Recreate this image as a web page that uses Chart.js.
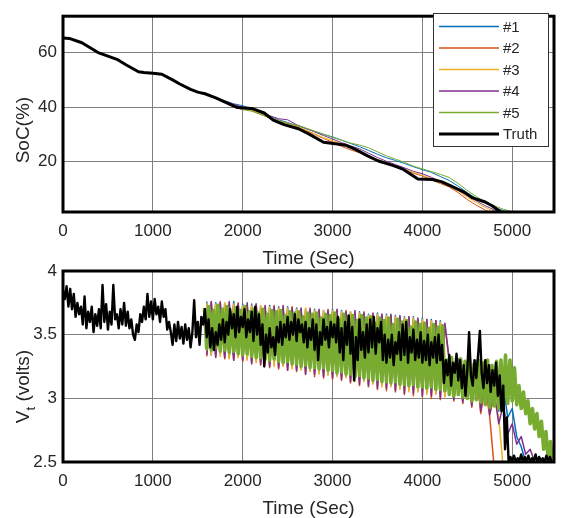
<!DOCTYPE html>
<html>
<head>
<meta charset="utf-8">
<title>SoC and terminal voltage</title>
<script src="https://cdn.jsdelivr.net/npm/chart.js@4"></script>
<style>
  html, body { margin: 0; padding: 0; background: #fff; }
  #wrap { position: relative; width: 564px; height: 518px; }
  #wrap canvas { position: absolute; left: 0; top: 0; }
</style>
</head>
<body>
<div id="wrap">
  <canvas id="chartSoc" width="564" height="518"></canvas>
  <canvas id="chartVolt" width="564" height="518"></canvas>
</div>
<script>
// ---- axes ----
const timeTicks = [0, 1000, 2000, 3000, 4000, 5000];
const socTicks = [20, 40, 60];
const voltTicks = [2.5, 3, 3.5, 4];
const timeMax = 5465;
const socMin = 1.3, socMax = 73.5;
const voltMin = 2.5, voltMax = 4;
const seriesNames = ['#1', '#2', '#3', '#4', '#5', 'Truth'];

// ---- top: SoC (%) ----
const socTruthTime = [0, 70, 210, 390, 500, 600, 700, 840, 900, 1000, 1100, 1220, 1300, 1420, 1500, 1580,
  1700, 1860, 1940, 2100, 2240, 2340, 2460, 2620, 2740, 2900, 3030, 3150, 3250, 3390, 3510, 3670, 3790,
  3870, 3950, 4110, 4210, 4310, 4470, 4560, 4700, 4780, 4860, 4900];
const socTruth = [65.5, 65.3, 63.7, 60.1, 58.8, 57.6, 55.6, 53.0, 52.7, 52.5, 52.1, 50.0, 48.5, 46.5, 45.5, 44.9,
  43.4, 41.0, 39.8, 39.5, 37.8, 35.2, 33.5, 32.0, 30.0, 27.0, 26.5, 25.9, 24.5, 22.0, 20.1, 18.5, 17.0,
  15.2, 13.5, 13.3, 12.5, 11.0, 8.5, 6.5, 5.0, 3.5, 1.6, 0.8];

const socEstTime = [1700, 1800, 1900, 2000, 2100, 2200, 2300, 2400, 2500, 2600, 2700, 2800, 2900, 3000,
  3100, 3200, 3300, 3400, 3500, 3600, 3700, 3800, 3900, 4000, 4100, 4200, 4300, 4400, 4500, 4600, 4700,
  4800, 4900, 5000, 5100];
const socEst1 = [43.4, 42.3, 41.2, 40.5, 39.3, 37.8, 36.6, 35.3, 34.3, 33.2, 32.1, 31.0, 29.9, 29.0,
  27.8, 26.6, 25.4, 24.0, 22.6, 21.3, 20.3, 19.2, 18.0, 16.9, 15.9, 14.4, 12.9, 10.8, 8.4, 6.3, 4.6,
  3.0, 1.8, 1.0, 0];
const socEst2 = [43.4, 42.1, 40.8, 39.6, 38.6, 37.3, 36.0, 34.8, 33.9, 32.8, 31.4, 29.9, 28.4, 27.0,
  25.5, 24.2, 23.2, 21.9, 20.4, 19.2, 18.0, 16.7, 15.6, 14.6, 13.2, 11.8, 10.5, 8.4, 5.9, 3.8, 2.0,
  0.5, 0, 0, 0];
const socEst3 = [43.4, 42.0, 40.7, 39.6, 38.8, 37.5, 36.2, 35.0, 33.9, 32.8, 31.6, 30.1, 28.7, 27.6,
  26.4, 25.0, 23.7, 22.2, 20.7, 19.5, 18.3, 17.1, 15.9, 14.8, 13.6, 12.2, 10.9, 9.0, 6.8, 4.8, 3.0,
  1.5, 0, 0, 0];
const socEst4 = [43.4, 42.2, 41.0, 40.0, 39.2, 38.0, 36.8, 35.7, 35.3, 33.5, 32.2, 30.8, 29.5, 28.2,
  26.9, 25.7, 24.6, 23.0, 21.4, 20.0, 18.8, 17.6, 16.3, 15.4, 14.1, 12.6, 11.3, 9.4, 7.4, 5.4, 3.6,
  2.1, 0.8, 0, 0];
const socEst5 = [43.4, 41.8, 40.2, 39.0, 38.5, 37.3, 36.0, 34.9, 34.0, 33.3, 32.3, 31.1, 30.0, 28.8,
  27.8, 26.7, 26.0, 25.0, 23.5, 22.0, 20.8, 19.6, 18.2, 17.2, 16.2, 15.2, 14.0, 11.8, 9.2, 7.0, 5.0,
  3.6, 2.3, 1.4, 0.5];

// ---- bottom: terminal voltage (V), sampled every few seconds ----
const voltTruthStart = 0, voltTruthStep = 20;
const voltTruth = [
  3.85, 3.78, 3.88, 3.72, 3.86, 3.70, 3.82, 3.64, 3.75, 3.66,
  3.72, 3.58, 3.80, 3.55, 3.68, 3.60, 3.72, 3.52, 3.66, 3.57,
  3.70, 3.55, 3.89, 3.60, 3.74, 3.54, 3.68, 3.58, 3.89, 3.62,
  3.66, 3.55, 3.70, 3.58, 3.75, 3.57, 3.68, 3.55, 3.62, 3.50,
  3.46, 3.58, 3.52, 3.66, 3.60, 3.72, 3.62, 3.82, 3.64, 3.76,
  3.62, 3.78, 3.66, 3.72, 3.60, 3.76, 3.64, 3.70, 3.54, 3.60,
  3.52, 3.42, 3.58, 3.45, 3.60, 3.47, 3.56, 3.43, 3.58, 3.46,
  3.55, 3.40, 3.52, 3.77, 3.48, 3.60, 3.42, 3.64, 3.58, 3.70,
  3.48, 3.62, 3.40, 3.55, 3.38, 3.52, 3.42, 3.58, 3.46, 3.62,
  3.44, 3.60, 3.50, 3.70, 3.55, 3.66, 3.48, 3.72, 3.52, 3.64,
  3.56, 3.70, 3.48, 3.62, 3.52, 3.68, 3.45, 3.72, 3.50, 3.66,
  3.42, 3.58, 3.25, 3.50, 3.36, 3.55, 3.40, 3.48, 3.34, 3.56,
  3.44, 3.60, 3.42, 3.58, 3.48, 3.64, 3.46, 3.60, 3.50, 3.66,
  3.45, 3.62, 3.52, 3.58, 3.44, 3.60, 3.40, 3.55, 3.46, 3.62,
  3.38, 3.58, 3.30, 3.52, 3.42, 3.62, 3.46, 3.56, 3.40, 3.60,
  3.48, 3.58, 3.44, 3.64, 3.36, 3.55, 3.30, 3.60, 3.42, 3.65,
  3.35, 3.56, 3.14, 3.48, 3.30, 3.62, 3.38, 3.52, 3.32, 3.58,
  3.36, 3.62, 3.40, 3.64, 3.35, 3.55, 3.44, 3.60, 3.30, 3.50,
  3.28, 3.46, 3.32, 3.50, 3.26, 3.44, 3.35, 3.52, 3.30, 3.58,
  3.34, 3.60, 3.28, 3.48, 3.36, 3.54, 3.30, 3.46, 3.32, 3.52,
  3.28, 3.45, 3.30, 3.50, 3.26, 3.44, 3.32, 3.48, 3.28, 3.50,
  3.30, 3.42, 3.12, 3.30, 3.18, 3.34, 3.10, 3.28, 3.20, 3.35,
  3.14, 3.30, 3.08, 3.26, 3.02, 3.22, 3.52, 3.18, 3.10, 3.30,
  3.16, 3.34, 3.53, 3.20, 3.08, 3.30, 3.12, 3.26, 3.05, 3.22,
  3.10, 3.28, 3.02, 3.18, 2.90, 3.10, 2.60, 2.85, 2.50, 2.54,
  2.51, 2.55, 2.50, 2.53, 2.51, 2.56, 2.50, 2.54, 2.51, 2.55,
  2.50, 2.53, 2.51, 2.56, 2.50, 2.54, 2.51, 2.53, 2.50, 2.55,
  2.51, 2.54, 2.50
];

const voltEstStart = 1600, voltEstStep = 50;
const voltEst1 = [
  3.76, 3.34, 3.75, 3.35, 3.74, 3.32, 3.76, 3.33, 3.74, 3.31,
  3.74, 3.30, 3.72, 3.29, 3.73, 3.27, 3.72, 3.26, 3.72, 3.25,
  3.71, 3.24, 3.70, 3.22, 3.70, 3.21, 3.69, 3.19, 3.70, 3.18,
  3.69, 3.17, 3.68, 3.15, 3.68, 3.14, 3.66, 3.12, 3.67, 3.11,
  3.66, 3.10, 3.65, 3.09, 3.64, 3.07, 3.64, 3.06, 3.63, 3.05,
  3.62, 3.04, 3.61, 3.02,
  3.30, 3.02, 3.31, 3.00, 3.29, 2.99, 3.30, 2.96, 3.28, 2.93,
  3.22, 2.90, 3.10, 2.85, 2.92, 2.70, 2.62, 2.50
];
const voltEst2 = [
  3.33, 3.75, 3.33, 3.76, 3.31, 3.74, 3.30, 3.75, 3.29, 3.73,
  3.28, 3.74, 3.26, 3.72, 3.24, 3.73, 3.23, 3.71, 3.22, 3.72,
  3.21, 3.70, 3.19, 3.71, 3.17, 3.69, 3.16, 3.70, 3.15, 3.69,
  3.14, 3.69, 3.12, 3.67, 3.10, 3.68, 3.09, 3.66, 3.07, 3.66,
  3.06, 3.65, 3.05, 3.64, 3.03, 3.64, 3.02, 3.62, 3.01, 3.62,
  3.00, 3.61, 2.99, 3.58,
  3.28, 2.98, 3.30, 2.96, 3.27, 2.93, 3.22, 2.88, 3.10, 2.85, 2.45
];
const voltEst3 = [
  3.75, 3.34, 3.74, 3.33, 3.75, 3.31, 3.74, 3.32, 3.73, 3.30,
  3.73, 3.28, 3.73, 3.27, 3.72, 3.25, 3.71, 3.25, 3.71, 3.23,
  3.70, 3.22, 3.71, 3.21, 3.69, 3.19, 3.69, 3.18, 3.69, 3.17,
  3.68, 3.16, 3.68, 3.13, 3.67, 3.13, 3.65, 3.11, 3.66, 3.09,
  3.65, 3.09, 3.64, 3.07, 3.63, 3.05, 3.63, 3.05, 3.62, 3.03,
  3.61, 3.03, 3.60, 3.01,
  3.29, 3.00, 3.31, 2.97, 3.28, 2.95, 3.25, 2.91, 3.15, 2.88,
  3.00, 2.85, 2.45
];
const voltEst4 = [
  3.34, 3.76, 3.32, 3.75, 3.32, 3.76, 3.30, 3.74, 3.30, 3.75,
  3.27, 3.74, 3.27, 3.73, 3.25, 3.72, 3.24, 3.73, 3.22, 3.71,
  3.22, 3.71, 3.19, 3.70, 3.19, 3.70, 3.17, 3.69, 3.16, 3.70,
  3.15, 3.68, 3.13, 3.69, 3.11, 3.67, 3.10, 3.67, 3.08, 3.66,
  3.08, 3.66, 3.06, 3.65, 3.04, 3.64, 3.04, 3.63, 3.02, 3.62,
  3.02, 3.61, 3.00, 3.59,
  3.30, 2.99, 3.31, 2.97, 3.28, 2.94, 3.27, 2.90, 3.20, 2.87,
  3.05, 2.80, 2.95, 2.72, 2.80, 2.64, 2.70, 2.56, 2.60, 2.50
];
const voltEst5Start = 1575, voltEst5Step = 25;
const voltEst5 = [
  3.71, 3.39, 3.72, 3.38, 3.69, 3.40, 3.73, 3.37,
  3.70, 3.38, 3.72, 3.36, 3.67, 3.37, 3.71, 3.35,
  3.69, 3.34, 3.72, 3.35, 3.68, 3.33, 3.70, 3.32,
  3.67, 3.32, 3.70, 3.31, 3.66, 3.30, 3.69, 3.31,
  3.68, 3.29, 3.69, 3.28, 3.65, 3.29, 3.68, 3.27,
  3.67, 3.27, 3.68, 3.25, 3.64, 3.26, 3.67, 3.24,
  3.66, 3.24, 3.67, 3.23, 3.63, 3.24, 3.66, 3.22,
  3.65, 3.22, 3.67, 3.20, 3.62, 3.21, 3.66, 3.19,
  3.64, 3.19, 3.65, 3.17, 3.61, 3.18, 3.65, 3.16,
  3.63, 3.16, 3.64, 3.14, 3.59, 3.15, 3.63, 3.13,
  3.61, 3.13, 3.63, 3.12, 3.58, 3.13, 3.62, 3.11,
  3.60, 3.11, 3.61, 3.10, 3.56, 3.11, 3.60, 3.09,
  3.58, 3.09, 3.59, 3.08, 3.55, 3.09, 3.58, 3.07,
  3.56, 3.07, 3.57, 3.06,
  3.30, 3.03, 3.32, 3.02, 3.28, 3.03, 3.31, 3.01,
  3.29, 3.00, 3.31, 2.98, 3.27, 2.99, 3.30, 2.97,
  3.28, 2.95, 3.30, 2.93, 3.26, 2.94, 3.29, 2.92,
  3.30, 2.94, 3.34, 2.96, 3.30, 2.98, 3.24, 2.95,
  3.10, 2.92, 3.05, 2.88, 2.98, 2.80, 2.92, 2.76,
  2.88, 2.70, 2.82, 2.60, 2.74, 2.52, 2.66, 2.50
];

// ---- styles ----
const colors = ['#0072BD', '#D95319', '#EDB120', '#7E2F8E', '#77AC30', '#000000'];
const fontFamily = "'Liberation Sans', Arial, Helvetica, sans-serif";
const textColor = '#262626';
const gridColor = '#808080';

function pairs(times, values) {
  return values.map((v, i) => ({ x: times[i], y: v }));
}
function sampled(t0, dt, values) {
  return values.map((v, i) => ({ x: t0 + i * dt, y: v }));
}

function lineSet(idx, data, width) {
  return {
    label: seriesNames[idx],
    data: data,
    borderColor: colors[idx],
    borderWidth: width,
    borderJoinStyle: 'round',
    pointRadius: 0,
    tension: 0,
    fill: false,
    order: 5 - idx
  };
}

function timeAxis() {
  return {
    type: 'linear',
    min: 0,
    max: timeMax,
    afterBuildTicks: s => { s.ticks = timeTicks.map(v => ({ value: v })); },
    afterFit: s => { s.height = 30; },
    grid: { color: gridColor, lineWidth: 1, drawTicks: false },
    border: { display: false },
    ticks: { color: textColor, font: { family: fontFamily, size: 17 }, padding: 9,
      maxRotation: 0, autoSkip: false, callback: v => String(v) }
  };
}

function valueAxis(min, max, tickVals) {
  return {
    type: 'linear',
    min: min,
    max: max,
    afterBuildTicks: s => { s.ticks = tickVals.map(v => ({ value: v })); },
    afterFit: s => { s.width = 63; },
    grid: { color: gridColor, lineWidth: 1, drawTicks: false },
    border: { display: false },
    ticks: { color: textColor, font: { family: fontFamily, size: 17 }, padding: 6,
      autoSkip: false, callback: v => String(v) }
  };
}

// box around the axes + axis titles (V_t needs a subscript)
const framePlugin = {
  id: 'frame',
  afterDraw(chart) {
    const { ctx, chartArea: a } = chart;
    const opts = chart.options.plugins.frame;
    ctx.save();
    ctx.strokeStyle = '#000';
    ctx.lineWidth = 3;
    ctx.strokeRect(a.left, a.top, a.right - a.left, a.bottom - a.top);

    ctx.fillStyle = textColor;
    ctx.font = '19px ' + fontFamily;
    ctx.textAlign = 'center';
    ctx.textBaseline = 'middle';
    ctx.fillText(opts.xTitle, (a.left + a.right) / 2, a.bottom + 47);

    ctx.translate(24, (a.top + a.bottom) / 2 + opts.yShift);
    ctx.rotate(-Math.PI / 2);
    ctx.textAlign = 'left';
    const parts = opts.yTitle;
    const small = '13px ' + fontFamily;
    const big = '19px ' + fontFamily;
    let total = 0;
    parts.forEach(p => { ctx.font = p.sub ? small : big; total += ctx.measureText(p.text).width; });
    let x = -total / 2;
    parts.forEach(p => {
      ctx.font = p.sub ? small : big;
      ctx.fillText(p.text, x, p.sub ? 7 : 0);
      x += ctx.measureText(p.text).width;
    });
    ctx.restore();
  }
};

// legend box inside the top axes
const boxLegendPlugin = {
  id: 'boxLegend',
  afterDraw(chart) {
    if (!chart.options.plugins.boxLegend) return;
    const ctx = chart.ctx;
    ctx.save();
    ctx.fillStyle = '#fff';
    ctx.fillRect(433.5, 13.5, 115, 133);
    ctx.strokeStyle = '#333';
    ctx.lineWidth = 1;
    ctx.strokeRect(433.5, 13.5, 115, 133);
    ctx.font = '15px ' + fontFamily;
    ctx.textAlign = 'left';
    ctx.textBaseline = 'middle';
    chart.data.datasets.forEach((ds, i) => {
      const y = 26.5 + i * 21.5;
      ctx.strokeStyle = ds.borderColor;
      ctx.lineWidth = i === 5 ? 3 : 1.5;
      ctx.beginPath();
      ctx.moveTo(439, y);
      ctx.lineTo(499, y);
      ctx.stroke();
      ctx.fillStyle = textColor;
      ctx.fillText(ds.label, 503, y + 1);
    });
    ctx.restore();
  }
};

Chart.register(framePlugin, boxLegendPlugin);

new Chart(document.getElementById('chartSoc'), {
  type: 'line',
  data: {
    datasets: [
      lineSet(0, pairs(socEstTime, socEst1), 1),
      lineSet(1, pairs(socEstTime, socEst2), 1),
      lineSet(2, pairs(socEstTime, socEst3), 1),
      lineSet(3, pairs(socEstTime, socEst4), 1),
      lineSet(4, pairs(socEstTime, socEst5), 1),
      lineSet(5, pairs(socTruthTime, socTruth), 3)
    ]
  },
  options: {
    responsive: false,
    animation: false,
    events: [],
    layout: { padding: { left: 0, right: 10, top: 10, bottom: 276 } },
    scales: { x: timeAxis(), y: valueAxis(socMin, socMax, socTicks) },
    plugins: {
      legend: { display: false },
      tooltip: { enabled: false },
      frame: { xTitle: 'Time (Sec)', yTitle: [{ text: 'SoC(%)' }], yShift: 16 },
      boxLegend: true
    }
  }
});

new Chart(document.getElementById('chartVolt'), {
  type: 'line',
  data: {
    datasets: [
      lineSet(0, sampled(voltEstStart, voltEstStep, voltEst1), 1.5),
      lineSet(1, sampled(voltEstStart, voltEstStep, voltEst2), 1.5),
      lineSet(2, sampled(voltEstStart, voltEstStep, voltEst3), 1.5),
      lineSet(3, sampled(voltEstStart, voltEstStep, voltEst4), 1.5),
      lineSet(4, sampled(voltEst5Start, voltEst5Step, voltEst5), 3.6),
      lineSet(5, sampled(voltTruthStart, voltTruthStep, voltTruth), 2.4)
    ]
  },
  options: {
    responsive: false,
    animation: false,
    events: [],
    layout: { padding: { left: 0, right: 10, top: 271, bottom: 26 } },
    scales: { x: timeAxis(), y: valueAxis(voltMin, voltMax, voltTicks) },
    plugins: {
      legend: { display: false },
      tooltip: { enabled: false },
      frame: { xTitle: 'Time (Sec)', yTitle: [{ text: 'V' }, { text: 't', sub: true }, { text: ' (volts)' }], yShift: 20 },
      boxLegend: false
    }
  }
});
</script>
</body>
</html>
